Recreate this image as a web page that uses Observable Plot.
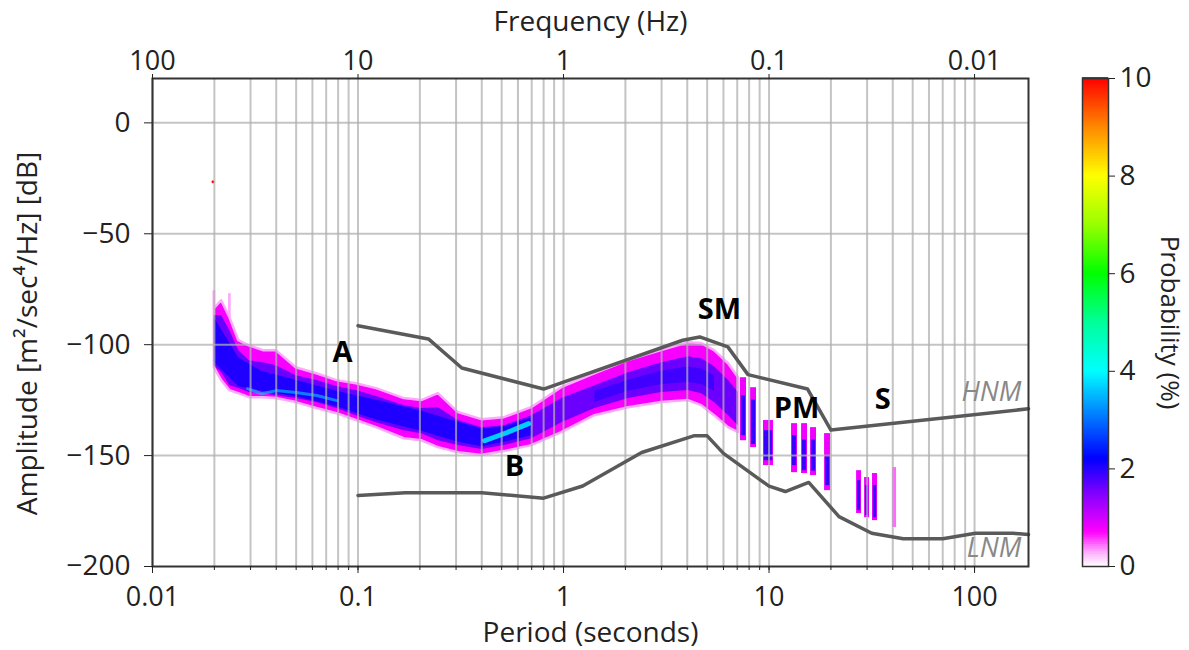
<!DOCTYPE html>
<html><head><meta charset="utf-8">
<script src="https://cdn.jsdelivr.net/npm/d3@7"></script>
<script src="https://cdn.jsdelivr.net/npm/@observablehq/plot@0.6"></script>
<style>
body{margin:0;background:#fff;}
#wrap{position:relative;width:1189px;height:650px;overflow:hidden;font-family:"Open Sans",sans-serif;}
#wrap svg{position:absolute;top:0;}
</style></head><body><div id="wrap"></div>
<script>
// ---- PDF envelope (period s, dB) ----
const periods  = [0.0200,0.0217,0.0238,0.0263,0.0296,0.0346,0.040,0.050,0.063,0.079,0.098,0.123,0.168,0.204,0.246,0.308,0.40,0.516,0.70,0.98,1.42,2.07,3.0,4.05,4.7,5.43,6.35,7.1];
const outerTop = [-83.8,-80.2,-87.8,-98.2,-100.5,-102.7,-102.7,-110.4,-113.1,-116.2,-117.6,-119.8,-124.3,-125.2,-122.1,-130.6,-133.8,-132.9,-128.4,-119.4,-113.1,-107.2,-102.7,-99.1,-99.5,-102.7,-108.6,-114.9];
const outerBot = [-110.4,-116.2,-120.7,-122.1,-123.9,-123.9,-124.3,-126.1,-128.8,-131.1,-134.2,-137.4,-142.4,-143.3,-146.4,-148.7,-150.0,-148.2,-145.5,-139.6,-132.0,-128.4,-126.1,-125.2,-127.5,-132.0,-137.4,-139.6];
const coreTop  = [-86.9,-86.9,-93.7,-102.7,-107.2,-108.1,-109.5,-114.0,-116.2,-118.9,-120.7,-123.4,-127.5,-128.8,-128.4,-134.2,-137.4,-136.5,-132.0,-124.3,-118.5,-112.6,-108.1,-105.4,-106.3,-109.9,-116.2,-121.6];
const coreBot  = [-109.5,-112.6,-118.5,-119.8,-121.6,-122.1,-123.0,-124.3,-126.1,-128.8,-132.0,-135.2,-138.8,-140.1,-143.3,-145.5,-147.3,-145.5,-142.4,-135.2,-128.8,-124.3,-121.6,-120.7,-122.1,-126.1,-132.0,-136.5];
// densest (blue) part at short periods
const denseP   = [0.0200,0.0263,0.034,0.050,0.079,0.123,0.204,0.308,0.40,0.516,0.70];
const denseTop = [-88,-106,-112,-116,-121,-125,-130,-135,-138,-137,-133];
const denseBot = [-108,-119,-121,-123.5,-128,-134,-139,-144,-146,-144,-141];
// dense band at the microseism peak
const smP   = [1.42,2.07,3.0,4.05,4.7,5.43];
const smTop = [-121,-116,-112,-110,-111,-114];
const smBot = [-126,-121,-118,-117,-118,-121];
const levelOuter = 0.75, levelCore = 1.6, levelDense = 2.1, levelFringe = 0.3, levelMode = 3.8;

// mode (cyan) traces
const modeAP = [0.029,0.034,0.040,0.050,0.063,0.079];
const modeAV = [-119.8,-122.1,-120.7,-121.6,-122.9,-125.2];
const modeBP = [0.413,0.528,0.676];
const modeBV = [-143.3,-139.7,-135.6];

// long-period streaks
const streakL   = [7.26,8.13,9.40,12.87,14.40,15.92,18.63,26.67,29.16,31.88,39.90];
const streakR   = [7.77,8.69,10.52,13.76,15.39,17.02,19.93,28.19,30.84,33.73,41.73];
const streakTop = [-114.9,-119.4,-134.2,-135.6,-135.6,-137.4,-140.1,-156.8,-159.9,-158.1,-155.4];
const streakBot = [-143.3,-146.4,-154.5,-157.7,-158.1,-159.0,-165.8,-176.1,-178.0,-179.3,-182.4];
const streakCT  = [-123.0,-125.0,-138.8,-141.0,-143.0,-143.0,-150.0,-161.3,-163.5,-163.5,null];
const streakCB  = [-141.0,-145.0,-152.3,-154.5,-156.8,-157.0,-163.5,-174.8,-177.0,-178.0,null];
const streakLvl = [0.8,0.8,0.8,0.8,0.8,0.8,0.8,0.8,0.8,0.8,0.45];

// faint wisps at short period
const wispP = [0.0200,0.0238];
const wispTop = [-75.7,-77.0];
const wispBot = [-84.0,-88.0];

// isolated high-probability cell
const hotP = [0.0197], hotV = [-26.6], hotProb = [10];

// Peterson noise models
const hnmP  = [0.1,0.22,0.32,0.8,3.8,4.6,6.3,7.9,15.4,20,183];
const hnmDb = [-91.5,-97.4,-110.5,-120.0,-98.0,-96.5,-101.0,-113.5,-120.0,-138.5,-128.9];
const lnmP  = [0.1,0.17,0.4,0.8,1.24,2.4,4.3,5.0,6.0,10,12,15.6,21.9,31.6,45,70,101,154,183];
const lnmDb = [-168.0,-166.7,-166.7,-169.2,-163.7,-148.6,-141.1,-141.1,-149.0,-163.8,-166.2,-162.1,-177.5,-185.0,-187.5,-187.5,-185.0,-185.0,-185.6];

// annotations
const annLabels = ["A","B","SM","PM","S"];
const annP = [0.084,0.578,5.74,13.6,35.7];
const annV = [-103.6,-155.0,-84.2,-128.8,-124.8];
const modelLabels = ["HNM","LNM"];
const modelP = [169,169];
const modelV = [-121.6,-191.7];

// ticks
const majorTicks = [0.01,0.1,1,10,100];
const yTicks = [-200,-150,-100,-50,0];
const cbTicks = [0,2,4,6,8,10];

// colormap (pqlx-like)
const cStops  = [0,0.3,0.7,1.4,2.2,3.0,4.0,5.0,6.0,7.0,8.0,9.0,10];
const cColors = ["#ffffff","#ffa8ff","#ff00ff","#9000ff","#0000ff","#0070ff","#00ffff","#00ff99","#00ff00","#99ff00","#ffff00","#ff8800","#ff0000"];

// ---- build tables ----
const blob = periods.map((P,i)=>({P, top: outerTop[i], bot: outerBot[i], ctop: coreTop[i], cbot: coreBot[i]}));
const dense = denseP.map((P,i)=>({P, top: denseTop[i], bot: denseBot[i]}));
const smBand = smP.map((P,i)=>({P, top: smTop[i], bot: smBot[i]}));
const modeA = modeAP.map((P,i)=>({P, v: modeAV[i]}));
const modeB = modeBP.map((P,i)=>({P, v: modeBV[i]}));
const streaks = streakL.map((l,i)=>({l, r: streakR[i], top: streakTop[i], bot: streakBot[i], ct: streakCT[i], cb: streakCB[i], lvl: streakLvl[i]}));
const wisps = wispP.map((P,i)=>({P, top: wispTop[i], bot: wispBot[i]}));
const hot = hotP.map((P,i)=>({P, v: hotV[i], p: hotProb[i]}));
const hnm = hnmP.map((P,i)=>({P, v: hnmDb[i]}));
const lnm = lnmP.map((P,i)=>({P, v: lnmDb[i]}));
const ann = annLabels.map((t,i)=>({t, P: annP[i], v: annV[i]}));
const models = modelLabels.map((t,i)=>({t, P: modelP[i], v: modelV[i]}));
const minorTicks = [];
for (const dec of majorTicks) for (let k = 1; k <= 9; k++) { const v = +(dec*k).toPrecision(3); if (v <= 183) minorTicks.push(v); }

const colorOpts = {type: "linear", domain: cStops, range: cColors, interpolate: "rgb"};
const fmtNum = d => (d < 0 ? "\u2212" : "") + Math.abs(d);
const fmtPeriod = d => String(d);
const fmtFreq = d => String(+(1/d).toPrecision(3));
const FONT = "'Open Sans', sans-serif";
const gridStyle = {stroke: "#b0b0b0", strokeOpacity: 0.75, strokeWidth: 2};

const main = Plot.plot({
  width: 1189, height: 650,
  marginLeft: 152, marginRight: 161, marginTop: 78, marginBottom: 84,
  style: {fontFamily: FONT, fontSize: "28px", color: "#222", background: "transparent", overflow: "visible"},
  x: {type: "log", domain: [0.01, 183], axis: null},
  y: {domain: [-200, 20], axis: null},
  color: colorOpts,
  marks: [
    Plot.rect(wisps, {x1: d => d.P*0.985, x2: d => d.P*1.015, y1: "bot", y2: "top", fill: () => levelFringe}),
    Plot.areaY(blob, {x: "P", y1: "bot", y2: "top", fill: () => levelOuter, stroke: () => levelFringe, strokeWidth: 2.5}),
    Plot.areaY(blob, {x: "P", y1: "cbot", y2: "ctop", fill: () => levelCore}),
    Plot.areaY(dense, {x: "P", y1: "bot", y2: "top", fill: () => levelDense, fillOpacity: 0.85}),
    Plot.areaY(smBand, {x: "P", y1: "bot", y2: "top", fill: () => levelDense, fillOpacity: 0.5}),
    Plot.line(modeA, {x: "P", y: "v", stroke: () => levelMode, strokeWidth: 3, strokeOpacity: 0.55}),
    Plot.line(modeB, {x: "P", y: "v", stroke: () => levelMode, strokeWidth: 5, strokeOpacity: 0.9}),
    Plot.rect(streaks, {x1: "l", x2: "r", y1: "bot", y2: "top", fill: "lvl"}),
    Plot.rect(streaks.filter(d => d.ct != null), {x1: d => d.l*1.01, x2: d => d.r*0.99, y1: "cb", y2: "ct", fill: () => 1.9}),
    Plot.dot(hot, {x: "P", y: "v", r: 1.5, fill: "p"}),
    Plot.gridX(minorTicks, gridStyle),
    Plot.gridY([-150,-100,-50,0], gridStyle),
    Plot.line(hnm, {x: "P", y: "v", stroke: "#5a5a5a", strokeWidth: 3.5}),
    Plot.line(lnm, {x: "P", y: "v", stroke: "#5a5a5a", strokeWidth: 3.5}),
    Plot.frame({stroke: "#333", strokeWidth: 2}),
    Plot.axisX({ticks: majorTicks, anchor: "bottom", tickSize: 7, tickPadding: 13, tickFormat: fmtPeriod, fontSize: 27, label: null, color: "#222"}),
    Plot.axisX({ticks: minorTicks, anchor: "bottom", tickSize: 4, tickFormat: () => "", label: null, color: "#222"}),
    Plot.axisX({ticks: majorTicks, anchor: "top", tickSize: 5, tickPadding: 4, tickFormat: fmtFreq, fontSize: 27, label: null, color: "#222"}),
    Plot.axisY({ticks: yTicks, anchor: "left", tickSize: 8, tickPadding: 14, tickFormat: fmtNum, fontSize: 28, label: null, color: "#222"}),
    Plot.text(["Period (seconds)"], {text: d => d, frameAnchor: "bottom", lineAnchor: "middle", textAnchor: "middle", dy: 67, fontSize: 28, fill: "#222"}),
    Plot.text(["Frequency (Hz)"], {text: d => d, frameAnchor: "top", lineAnchor: "middle", textAnchor: "middle", dy: -56, fontSize: 28, fill: "#222"}),
    Plot.text(["Amplitude [m\u00b2/sec\u2074/Hz] [dB]"], {text: d => d, frameAnchor: "left", lineAnchor: "middle", textAnchor: "middle", dx: -124, dy: 11, rotate: -90, fontSize: 28, fill: "#222"}),
    Plot.text(ann, {x: "P", y: "v", text: "t", fontWeight: "bold", fontSize: 29, fill: "#000"}),
    Plot.text(models, {x: "P", y: "v", text: "t", fontStyle: "italic", textAnchor: "end", fontSize: 27, fill: "#888"})
  ]
});
main.style.left = "0px";

const ramp = d3.range(0, 10, 0.05);
const cb = Plot.plot({
  width: 107, height: 650,
  marginLeft: 1, marginRight: 80, marginTop: 78, marginBottom: 84,
  style: {fontFamily: FONT, fontSize: "28px", color: "#222", background: "transparent", overflow: "visible"},
  x: {domain: [0, 1], axis: null},
  y: {domain: [0, 10], axis: null},
  color: colorOpts,
  marks: [
    Plot.rect(ramp, {x1: 0, x2: 1, y1: d => d, y2: d => d + 0.07, fill: d => d + 0.025}),
    Plot.frame({stroke: "#333", strokeWidth: 1.5}),
    Plot.axisY({ticks: cbTicks, anchor: "right", tickSize: 6, tickPadding: 5, fontSize: 28, label: null, color: "#222"}),
    Plot.text(["Probability (%)"], {text: d => d, frameAnchor: "right", lineAnchor: "middle", textAnchor: "middle", dx: 61, rotate: 90, fontSize: 26, fill: "#222"})
  ]
});
cb.style.left = "1081px";

const wrap = document.getElementById("wrap");
wrap.appendChild(main);
wrap.appendChild(cb);
</script></body></html>
